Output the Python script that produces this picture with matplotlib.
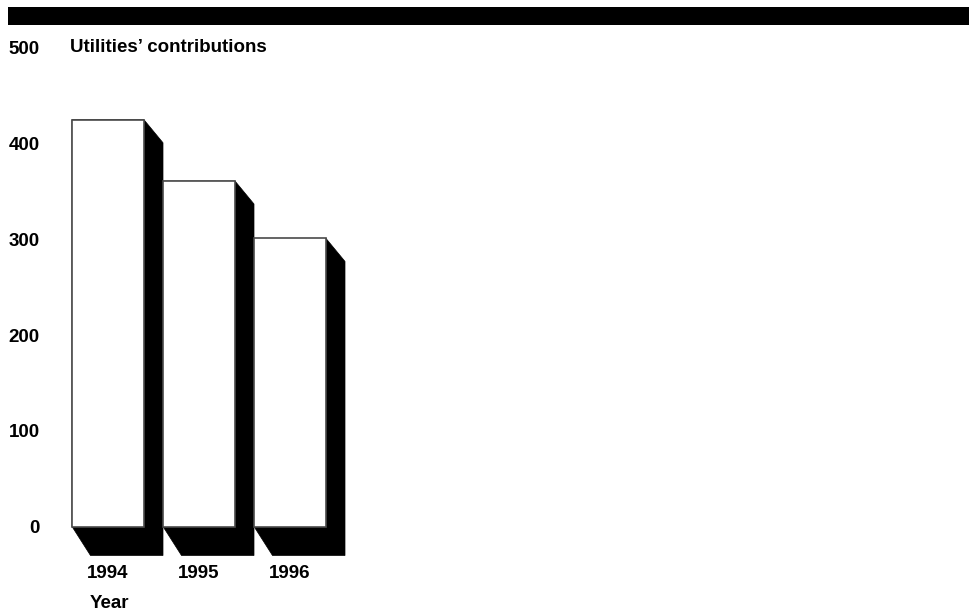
import matplotlib
matplotlib.use("Agg")
import matplotlib.pyplot as plt
from matplotlib.patches import Polygon, Rectangle
from matplotlib.transforms import IdentityTransform

plt.rcParams['font.family'] = ['Liberation Sans', 'DejaVu Sans']
plt.rcParams['font.weight'] = 'bold'

years = ["1994", "1995", "1996"]
contributions = [425, 361, 301]
y_ticks = [0, 100, 200, 300, 400, 500]
title_text = "Utilities\u2019 contributions"
x_title = "Year"

W, H = 970, 614
DPI = 100
FS = 13.5
fig = plt.figure(figsize=(W / DPI, H / DPI), dpi=DPI)

# axes placed in pixel terms
ax_left, ax_right = 60, 960
ax_top, ax_bottom = 48, 526.5
ax = fig.add_axes([ax_left / W, 1 - ax_bottom / H,
                   (ax_right - ax_left) / W, (ax_bottom - ax_top) / H])

step_px = 91.0
first_center_px = 108.0
ax.set_xlim(-(first_center_px - ax_left) / step_px,
            (ax_right - first_center_px) / step_px)
ax.set_ylim(0, 500)
ax.autoscale(False)
for s in ax.spines.values():
    s.set_visible(False)

ax.set_yticks(y_ticks)
ax.set_yticklabels([str(v) for v in y_ticks])
ax.set_xticks(range(len(years)))
ax.set_xticklabels(years)
ax.tick_params(axis='y', length=0, pad=14.4, labelsize=FS)
ax.tick_params(axis='x', length=0, pad=27.5, labelsize=FS)

bar_w = 72 / step_px
bars = ax.bar(range(len(years)), contributions, width=bar_w,
              color='white', edgecolor='#4a4a4a', linewidth=1.2, zorder=3,
              clip_on=False)

# shadow depth in pixels
dx_top, dy_top = 19, 23
dx_bot, dy_bot = 18.5, 29
for i, v in enumerate(contributions):
    x0, x1 = i - bar_w / 2, i + bar_w / 2
    (px0, pbot), (px1, ptop) = ax.transData.transform([(x0, 0), (x1, v)])
    pts = [(px1, ptop), (px1 + dx_top, ptop - dy_top),
           (px1 + dx_top, pbot - dy_bot), (px0 + dx_bot, pbot - dy_bot),
           (px0, pbot), (px0, ptop)]
    poly = Polygon(pts, closed=True, facecolor='black', edgecolor='black',
                   linewidth=0.5, transform=IdentityTransform(), zorder=2,
                   clip_on=False)
    ax.add_artist(poly)

# heavy rule across the top
fig.add_artist(Rectangle((8 / W, 1 - 25 / H), (W - 8) / W, 18 / H,
                         transform=fig.transFigure, facecolor='black',
                         edgecolor='none'))

fig.text(70 / W, 1 - 48 / H, title_text, ha='left', va='center',
         fontsize=FS, fontweight='bold')
fig.text(109 / W, 1 - 603 / H, x_title, ha='center', va='center',
         fontsize=FS, fontweight='bold')

fig.savefig("out.png", dpi=DPI)
